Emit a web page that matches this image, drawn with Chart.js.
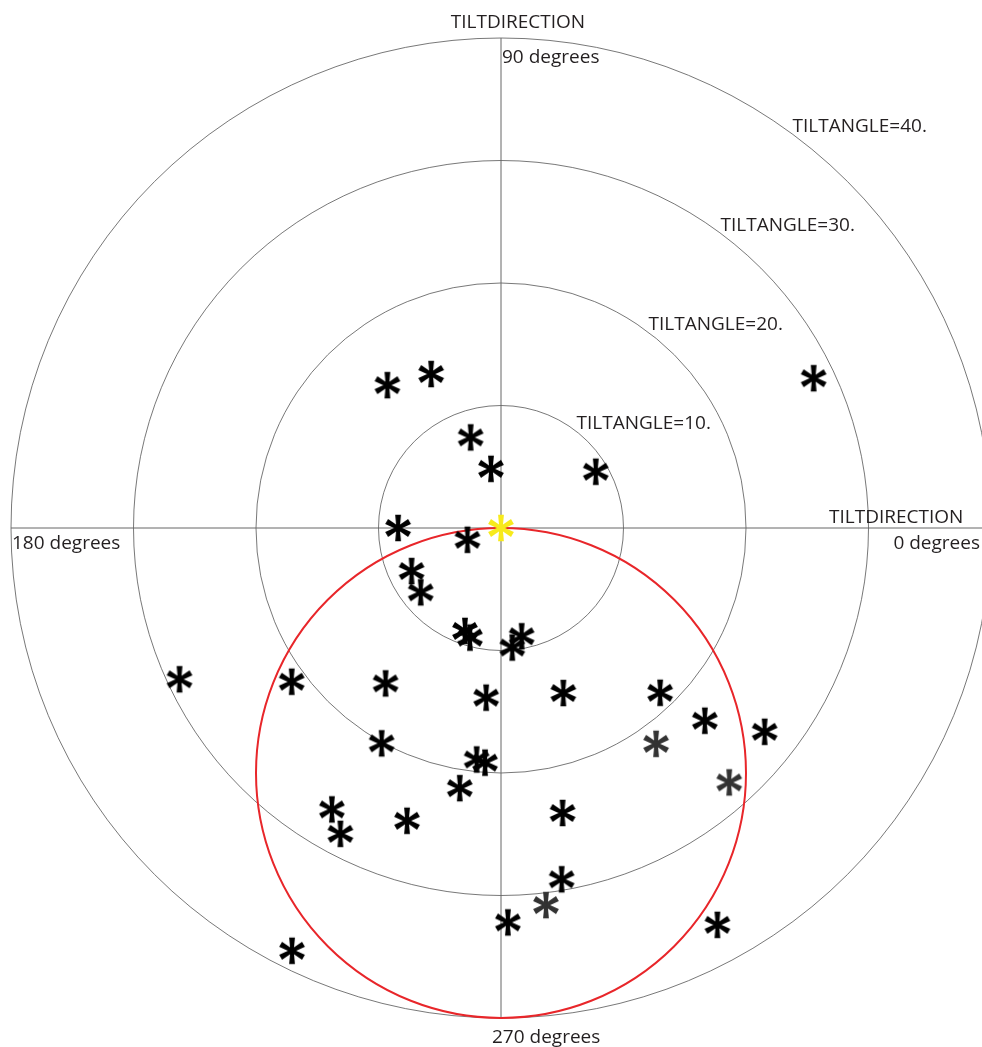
<!DOCTYPE html>
<html>
<head>
<meta charset="utf-8">
<title>Tilt direction / tilt angle</title>
<script src="https://cdn.jsdelivr.net/npm/chart.js@4.4.0/dist/chart.umd.min.js"></script>
<style>
  html, body { margin: 0; padding: 0; background: #fff; overflow: hidden; }
  #wrap { position: absolute; left: 0; top: 0; width: 1002px; height: 1047px; }
</style>
</head>
<body>
<div id="wrap"><canvas id="polarChart"></canvas></div>
<script>
// Tilt angle (degrees) and tilt direction (degrees, 0 = right, counter-clockwise)
const tiltAngle = [
  14.9, 13.8, 28.3, 7.8, 4.9, 9.0, 8.4, 2.9, 8.1, 8.4,
  8.9, 9.3, 9.0, 9.8, 29.0, 21.2, 15.8, 13.9, 14.4, 18.7,
  22.9, 27.2, 20.1, 19.0, 19.2, 21.5, 26.8, 28.2, 25.1, 23.8,
  29.1, 32.2, 36.9, 38.5
];
const tiltDirection = [
  128.5, 114.4, 25.6, 108.5, 99.6, 30.7, 180.0, 199.4, 205.7, 218.7,
  250.7, 254.2, 280.8, 275.4, 205.2, 216.3, 233.4, 265.0, 290.7, 314.0,
  316.6, 322.3, 241.0, 264.0, 266.1, 261.0, 239.0, 242.3, 252.2, 282.2,
  279.8, 271.0, 298.6, 243.7
];
// the three lighter markers
const grayTiltAngle = [21.7, 27.9, 31.0];
const grayTiltDirection = [305.7, 311.9, 276.8];
// reference (yellow) marker
const refTiltAngle = [0];
const refTiltDirection = [0];

const ringValues = [10, 20, 30, 40];
const ringLabels = ["TILTANGLE=10.", "TILTANGLE=20.", "TILTANGLE=30.", "TILTANGLE=40."];
const maxTilt = 40;
// red cone: centre at tilt 20 / direction 270, radius 20
const coneTilt = 20;
const coneDirection = 270;
const coneRadius = 20;

const FONT = '19px "Open Sans", "Noto Sans", sans-serif';
const TEXT_COLOR = "#231f20";

function toXY(tilts, dirs) {
  return tilts.map((t, i) => {
    const a = (dirs[i] * Math.PI) / 180;
    return { x: t * Math.cos(a), y: t * Math.sin(a) };
  });
}

// six-spoke asterisk marker, spokes a bit wider at the tips
function makeAsterisk(color) {
  const size = 32;
  const c = document.createElement("canvas");
  c.width = size;
  c.height = size;
  const g = c.getContext("2d");
  g.fillStyle = color;
  g.translate(size / 2, size / 2);
  for (let k = 0; k < 6; k++) {
    g.save();
    g.rotate((k * Math.PI) / 3);
    g.beginPath();
    g.moveTo(-1.7, 0);
    g.lineTo(-2.9, -13.2);
    g.lineTo(2.9, -13.2);
    g.lineTo(1.7, 0);
    g.closePath();
    g.fill();
    g.restore();
  }
  return c;
}

const polarGrid = {
  id: "polarGrid",
  beforeDatasetsDraw(chart) {
    const { ctx, scales } = chart;
    const xs = scales.x, ys = scales.y;
    const cx = xs.getPixelForValue(0);
    const cy = ys.getPixelForValue(0);
    ctx.save();

    // rings
    ctx.strokeStyle = "#555";
    ctx.lineWidth = 0.8;
    ringValues.forEach((v) => {
      const r = xs.getPixelForValue(v) - cx;
      ctx.beginPath();
      ctx.arc(cx, cy, r, 0, Math.PI * 2);
      ctx.stroke();
    });

    // axes
    ctx.strokeStyle = "#666";
    ctx.lineWidth = 1;
    ctx.beginPath();
    ctx.moveTo(xs.getPixelForValue(-maxTilt), cy);
    ctx.lineTo(xs.getPixelForValue(maxTilt), cy);
    ctx.moveTo(cx, ys.getPixelForValue(maxTilt));
    ctx.lineTo(cx, ys.getPixelForValue(-maxTilt));
    ctx.stroke();

    // red cone circle
    const cc = toXY([coneTilt], [coneDirection])[0];
    const ccx = xs.getPixelForValue(cc.x);
    const ccy = ys.getPixelForValue(cc.y);
    const cr = xs.getPixelForValue(coneRadius) - cx;
    ctx.strokeStyle = "#e8262a";
    ctx.lineWidth = 2;
    ctx.beginPath();
    ctx.arc(ccx, ccy, cr, 0, Math.PI * 2);
    ctx.stroke();

    ctx.restore();
  },
  afterDraw(chart) {
    const { ctx, scales } = chart;
    const xs = scales.x, ys = scales.y;
    const cx = xs.getPixelForValue(0);
    const cy = ys.getPixelForValue(0);
    const rMax = xs.getPixelForValue(maxTilt) - cx;
    ctx.save();
    ctx.font = FONT;
    ctx.fillStyle = TEXT_COLOR;

    // ring labels along ~54 degrees
    ctx.textAlign = "left";
    ctx.textBaseline = "middle";
    const la = (54 * Math.PI) / 180;
    ringValues.forEach((v, i) => {
      const r = xs.getPixelForValue(v) - cx + 6;
      ctx.fillText(ringLabels[i], cx + r * Math.cos(la), cy - r * Math.sin(la));
    });

    ctx.textBaseline = "alphabetic";
    // top
    ctx.textAlign = "center";
    ctx.fillText("TILTDIRECTION", cx + 17, cy - rMax - 10);
    ctx.textAlign = "left";
    ctx.fillText("90 degrees", cx + 1, cy - rMax + 25);
    // right
    ctx.fillText("TILTDIRECTION", 829, cy - 5);
    ctx.textAlign = "right";
    ctx.fillText("0 degrees", 980, cy + 21);
    // left
    ctx.textAlign = "left";
    ctx.fillText("180 degrees", cx - rMax + 1, cy + 21);
    // bottom
    ctx.fillText("270 degrees", cx - 9, cy + rMax + 25);
    ctx.restore();
  },
};

const ctx = document.getElementById("polarChart").getContext("2d");
window.polarChart = new Chart(ctx, {
  type: "scatter",
  data: {
    datasets: [
      {
        label: "measurements",
        data: toXY(tiltAngle, tiltDirection),
        pointStyle: makeAsterisk("#000"),
      },
      {
        label: "measurements (light)",
        data: toXY(grayTiltAngle, grayTiltDirection),
        pointStyle: makeAsterisk("#333"),
      },
      {
        label: "reference",
        data: toXY(refTiltAngle, refTiltDirection),
        pointStyle: makeAsterisk("#f7ea1c"),
      },
    ],
  },
  options: {
    responsive: true,
    maintainAspectRatio: false,
    animation: false,
    events: [],
    devicePixelRatio: 1,
    layout: { padding: { left: 11, right: 11, top: 38, bottom: 29 } },
    plugins: {
      legend: { display: false },
      tooltip: { enabled: false },
    },
    scales: {
      x: { type: "linear", min: -maxTilt, max: maxTilt, display: false },
      y: { type: "linear", min: -maxTilt, max: maxTilt, display: false },
    },
  },
  plugins: [polarGrid],
});
</script>
</body>
</html>
